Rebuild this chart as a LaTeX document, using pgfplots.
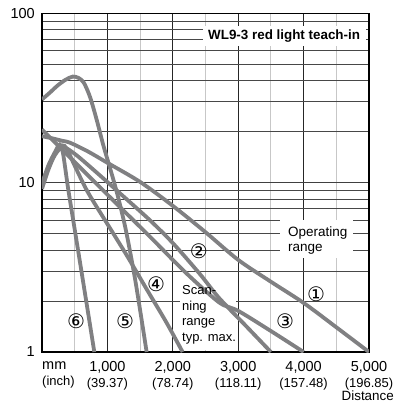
\documentclass[border=0pt]{standalone}
\usepackage{pgfplots}
\pgfplotsset{compat=1.18}
\usepackage{fontspec}
\setmainfont{Liberation Sans}
\newfontfamily\dejavu{DejaVu Sans}
\definecolor{curve}{RGB}{128,128,130}

\pgfplotstableread{
x y
0 31
120 34
240 37.5
360 40.5
470 42.3
560 41.5
640 38.9
735 32
835 23.6
940 16.5
1040 12.2
1150 8.6
1280 5.3
1430 2.6
1600 1
}\curvefive

\pgfplotstableread{
x y
0 18.8
150 18.3
300 17.7
430 17.2
700 15.3
1000 13.1
1500 10.1
2000 7.3
2500 5.1
3000 3.5
3500 2.6
4000 1.95
4500 1.4
5000 1
}\curveone

\pgfplotstableread{
x y
0 20.6
300 15.8
600 12.1
1000 8.5
1650 4.8
2000 3.5
2300 2.7
2718 1.95
3000 1.75
3500 1.33
4000 1
}\curvethree

\pgfplotstableread{
x y
0 9.2
100 12
200 14.6
320 16.2
500 14.8
800 11.8
1200 8.6
1650 6.0
2000 4.4
2410 2.9
2700 2.1
3100 1.45
3500 1
}\curvetwo

\pgfplotstableread{
x y
0 9.6
100 12.4
200 14.8
310 16.6
380 15.8
500 12.6
700 8.8
1000 5.7
1300 3.7
1600 2.35
1900 1.5
2150 1
}\curvefour

\pgfplotstableread{
x y
0 9.9
100 12.7
200 15.2
270 16.8
320 15.0
400 9.2
500 5.3
600 3.05
700 1.75
800 1
}\curvesix

\begin{document}
\begin{tikzpicture}
\begin{axis}[
  name=ax,
  scale only axis,
  width=327pt, height=338.7pt,
  xmin=0, xmax=5000, ymin=1, ymax=100,
  ymode=log,
  xtick={0,1000,2000,3000,4000,5000},
  minor xtick={500,1500,2500,3500,4500},
  xticklabels={,
    {1,000\\{\fontsize{13}{15}\selectfont(39.37)}},
    {2,000\\{\fontsize{13}{15}\selectfont(78.74)}},
    {3,000\\{\fontsize{13}{15}\selectfont(118.11)}},
    {4,000\\{\fontsize{13}{15}\selectfont(157.48)}},
    {5,000\\{\fontsize{13}{15}\selectfont(196.85)}}},
  ytick={1,10,100},
  minor ytick={2,3,4,5,6,7,8,9,20,30,40,50,60,70,80,90},
  yticklabels={1,10,100},
  major tick length=0pt, minor tick length=0pt,
  xmajorgrids, xminorgrids, ymajorgrids, yminorgrids,
  major x grid style={black!85, line width=0.9pt},
  minor x grid style={black!22, line width=1pt},
  major y grid style={black!75, line width=0.9pt},
  minor y grid style={black!72, line width=0.9pt},
  axis line style={black, line width=1.3pt},
  xticklabel style={font=\fontsize{14.5}{16}\selectfont, align=center, inner sep=0pt, anchor=north, yshift=-9pt},
  yticklabel style={font=\fontsize{14.5}{16}\selectfont, inner sep=0pt, anchor=east, xshift=-7pt},
  clip=true,
]
% white boxes behind labels
\fill[white] (axis cs:2460,64.5) rectangle (axis cs:4950,84);
\fill[white] (axis cs:3639,3.6) rectangle (axis cs:4755,6.04);
\fill[white] (axis cs:2110,1.03) rectangle (axis cs:2966,2.67);

\addplot[curve, line width=3.8pt, smooth, tension=0.5] table {\curvefive};
\addplot[curve, line width=3.8pt, smooth, tension=0.5] table {\curveone};
\addplot[curve, line width=3.8pt, smooth, tension=0.5] table {\curvethree};
\addplot[curve, line width=3.8pt, smooth, tension=0.5] table {\curvetwo};
\addplot[curve, line width=3.8pt, smooth, tension=0.5] table {\curvefour};
\addplot[curve, line width=3.8pt, smooth, tension=0.5] table {\curvesix};

\node[anchor=base west, inner sep=0pt, font=\fontsize{13.4}{15}\selectfont\bfseries] at (axis cs:2538,70.2) {WL9-3 red light teach-in};
\node[anchor=base west, inner sep=0pt, align=left, font=\fontsize{13.5}{15}\selectfont] at (axis cs:3761,3.93) {Operating\\range};
\node[anchor=base west, inner sep=0pt, align=left, font=\fontsize{13}{15.5}\selectfont] at (axis cs:2140,1.16) {Scan-\\ning\\range\\typ. max.};

\node[inner sep=0pt, font=\fontsize{20}{20}\selectfont\dejavu] at (axis cs:4190,2.2) {①};
\node[inner sep=0pt, font=\fontsize{20}{20}\selectfont\dejavu] at (axis cs:2400,3.96) {②};
\node[inner sep=0pt, font=\fontsize{20}{20}\selectfont\dejavu] at (axis cs:3716,1.52) {③};
\node[inner sep=0pt, font=\fontsize{20}{20}\selectfont\dejavu] at (axis cs:1743,2.53) {④};
\node[inner sep=0pt, font=\fontsize{20}{20}\selectfont\dejavu] at (axis cs:1269,1.52) {⑤};
\node[inner sep=0pt, font=\fontsize{20}{20}\selectfont\dejavu] at (axis cs:520,1.52) {⑥};
\end{axis}
\node[anchor=north west, inner sep=0pt, align=left, yshift=-9pt, font=\fontsize{14.5}{16}\selectfont] at (ax.south west) {mm\\{\fontsize{13}{15}\selectfont(inch)}};
\node[anchor=base east, inner sep=0pt, font=\fontsize{13.4}{15}\selectfont] at ([shift={(25pt,-48pt)}]ax.south east) {Distance};
\pgfresetboundingbox
\path[use as bounding box] ([shift={(-42pt,-50pt)}]ax.south west) rectangle ([shift={(352pt,352pt)}]ax.south west);
\end{tikzpicture}
\end{document}
